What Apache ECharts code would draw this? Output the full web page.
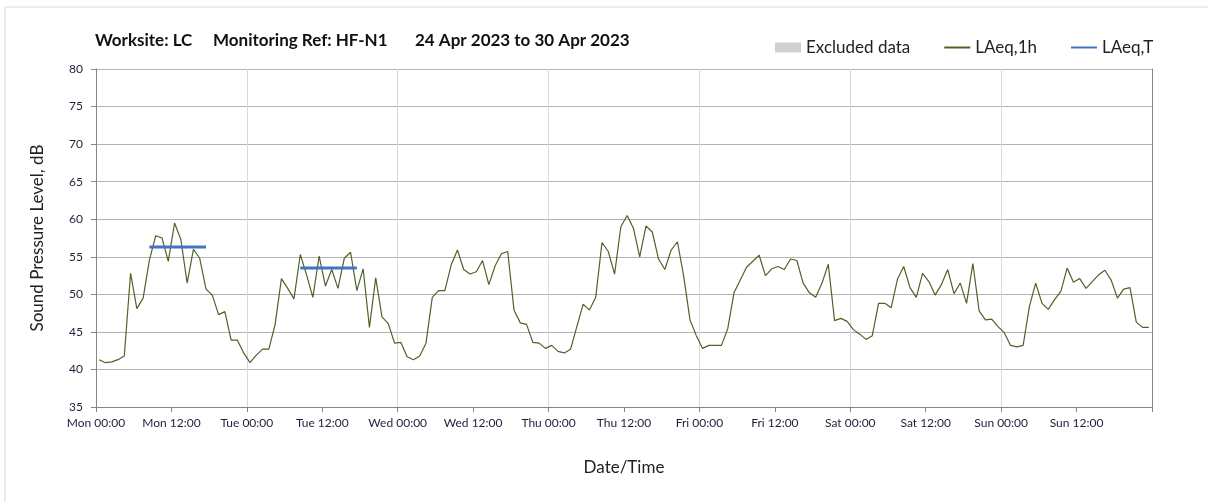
<!DOCTYPE html>
<html>
<head>
<meta charset="utf-8">
<script src="https://cdn.jsdelivr.net/npm/echarts@6/dist/echarts.min.js"></script>
<style>
  html, body { margin: 0; padding: 0; background: #fff; }
  #noise-chart { width: 1208px; height: 502px; }
</style>
</head>
<body>
<div id="noise-chart"></div>
<script>
const dayNames = ['Mon', 'Tue', 'Wed', 'Thu', 'Fri', 'Sat', 'Sun']
const titleParts = ['Worksite: LC', 'Monitoring Ref: HF-N1', '24 Apr 2023 to 30 Apr 2023']

// hourly LAeq,1h readings, Mon 00:00 .. Sun 23:00
const laeq1h = [
  41.3, 40.9, 41.0, 41.3, 41.8, 52.8, 48.1, 49.5, 54.6, 57.8, 57.5, 54.4,
  59.5, 57.3, 51.5, 56.0, 54.8, 50.7, 49.9, 47.3, 47.7, 43.9, 43.9, 42.2,
  40.9, 41.9, 42.7, 42.7, 46.0, 52.1, 50.8, 49.4, 55.3, 52.6, 49.6, 55.1,
  51.1, 53.3, 50.8, 54.8, 55.6, 50.5, 53.4, 45.6, 52.2, 47.0, 46.1, 43.5,
  43.6, 41.7, 41.3, 41.8, 43.5, 49.6, 50.5, 50.5, 53.9, 55.9, 53.3, 52.7,
  53.0, 54.5, 51.3, 53.8, 55.4, 55.7, 47.9, 46.2, 46.0, 43.6, 43.5, 42.8,
  43.2, 42.4, 42.2, 42.7, 45.7, 48.7, 47.9, 49.6, 56.9, 55.7, 52.7, 59.0,
  60.5, 58.8, 55.0, 59.1, 58.3, 54.7, 53.3, 55.9, 57.0, 52.4, 46.6, 44.5,
  42.8, 43.2, 43.2, 43.2, 45.4, 50.2, 51.9, 53.6, 54.4, 55.2, 52.5, 53.4,
  53.7, 53.3, 54.7, 54.5, 51.5, 50.2, 49.6, 51.5, 54.0, 46.5, 46.8, 46.4,
  45.3, 44.7, 44.0, 44.5, 48.8, 48.8, 48.2, 52.0, 53.7, 50.9, 49.6, 52.8,
  51.7, 49.9, 51.3, 53.3, 50.1, 51.5, 48.8, 54.1, 47.8, 46.6, 46.7, 45.7,
  44.9, 43.2, 43.0, 43.2, 48.4, 51.5, 48.8, 48.0, 49.3, 50.4, 53.5, 51.6,
  52.1, 50.8, 51.7, 52.6, 53.2, 51.9, 49.5, 50.7, 50.9, 46.3, 45.6, 45.6
]

// daytime LAeq,T periods (hour index of first and last hour)
const laeqTStart = [8, 32]
const laeqTEnd = [17, 41]
const laeqTValue = [56.3, 53.5]

const hourData = laeq1h.map((v, i) => [i + 0.5, v])
const periodData = []
laeqTValue.forEach((v, i) => {
  if (i > 0) periodData.push(['-', '-'])
  periodData.push([laeqTStart[i] + 0.5, v], [laeqTEnd[i] + 0.5, v])
})

const chart = echarts.init(document.getElementById('noise-chart'))

const titleLeft = [95, 213, 415]
const hiddenSymbol = { color: 'rgba(0,0,0,0)', borderWidth: 0, opacity: 0 }

const option = {
  animation: false,
  textStyle: { fontFamily: 'Lato' },
  graphic: [{
    type: 'rect',
    shape: { x: 5, y: 7, width: 1250, height: 540 },
    style: { fill: 'none', stroke: '#d9d9d9', lineWidth: 1 },
    silent: true
  }],
  title: titleParts.map((t, i) => ({
    text: t,
    left: titleLeft[i],
    top: 32,
    padding: 0,
    textStyle: { fontSize: 17, fontWeight: 'bold', color: '#111', fontFamily: 'Lato' }
  })),
  legend: {
    left: 770,
    top: 34,
    itemGap: 33,
    itemWidth: 26,
    itemHeight: 10,
    textStyle: { fontSize: 17, color: '#222', fontFamily: 'Lato' },
    data: [
      { name: 'Excluded data', icon: 'rect' },
      { name: 'LAeq,1h', itemStyle: hiddenSymbol },
      { name: 'LAeq,T', itemStyle: hiddenSymbol }
    ]
  },
  grid: { left: 96, right: 56, top: 69, bottom: 95 },
  xAxis: {
    type: 'value',
    min: 0,
    max: 168,
    interval: 12,
    name: 'Date/Time',
    nameLocation: 'middle',
    nameGap: 52,
    nameTextStyle: { fontSize: 17, color: '#222' },
    axisLine: { lineStyle: { color: '#868686' } },
    axisTick: { length: 5, lineStyle: { color: '#868686' } },
    axisLabel: {
      fontSize: 12,
      color: '#1f1f3a',
      margin: 10,
      formatter: (v) => {
        const day = Math.floor(v / 24)
        if (day >= dayNames.length) return ''
        return dayNames[day] + (v % 24 === 0 ? ' 00:00' : ' 12:00')
      }
    },
    splitLine: { show: true, lineStyle: { color: ['#d9d9d9', 'rgba(0,0,0,0)'] } }
  },
  yAxis: [{
    type: 'value',
    min: 35,
    max: 80,
    interval: 5,
    name: 'Sound Pressure Level, dB',
    nameLocation: 'middle',
    nameGap: 50,
    nameTextStyle: { fontSize: 17, color: '#222' },
    axisLine: { show: true, lineStyle: { color: '#868686' } },
    axisTick: { show: true, length: 5, lineStyle: { color: '#868686' } },
    axisLabel: { fontSize: 12, color: '#1f1f3a', margin: 13 },
    splitLine: { lineStyle: { color: '#b3b3b3' } }
  }, {
    type: 'value',
    position: 'right',
    min: 35,
    max: 80,
    interval: 5,
    axisLine: { show: true, lineStyle: { color: '#868686' } },
    axisTick: { show: false },
    axisLabel: { show: false },
    splitLine: { show: false }
  }],
  series: [
    {
      name: 'Excluded data',
      type: 'bar',
      data: [],
      itemStyle: { color: '#d0d0d0' }
    },
    {
      name: 'LAeq,1h',
      type: 'line',
      data: hourData,
      symbol: 'none',
      itemStyle: { color: '#4f6228' },
      lineStyle: { color: '#4f6228', width: 1.2 }
    },
    {
      name: 'LAeq,T',
      type: 'line',
      data: periodData,
      symbol: 'none',
      connectNulls: false,
      itemStyle: { color: '#4472c4' },
      lineStyle: { color: '#4472c4', width: 3 }
    }
  ]
}

chart.setOption(option)
</script>
</body>
</html>
